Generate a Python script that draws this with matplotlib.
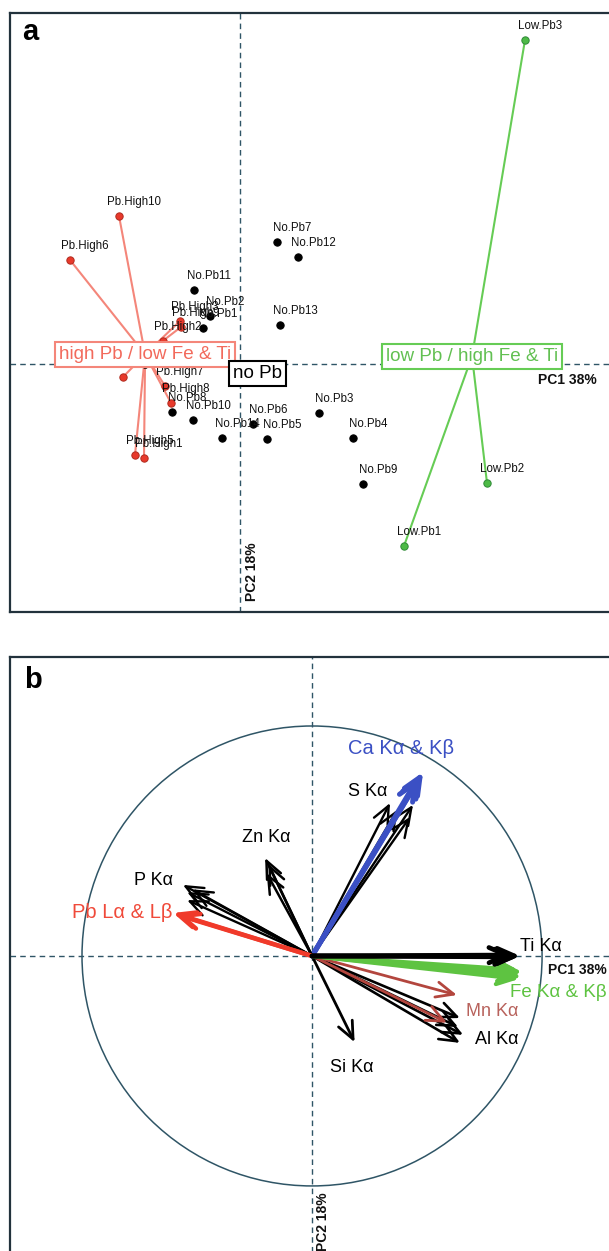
import numpy as np
import matplotlib
matplotlib.use('Agg')
import matplotlib.pyplot as plt
from matplotlib.patches import Circle

plt.rcParams['font.family'] = ['Liberation Sans', 'DejaVu Sans']

# ---------------- Panel a: sample scores (PC1, PC2) ----------------
pb_high_names = ['Pb.High1', 'Pb.High2', 'Pb.High3', 'Pb.High4', 'Pb.High5',
                 'Pb.High6', 'Pb.High7', 'Pb.High8', 'Pb.High9', 'Pb.High10']
pb_high_pc1 = [-1.92, -1.54, -1.20, -2.34, -2.10, -3.40, -1.50, -1.38, -1.18, -2.42]
pb_high_pc2 = [-1.88, 0.46, 0.86, -0.26, -1.82, 2.08, -0.44, -0.78, 0.74, 2.96]

no_pb_names = ['No.Pb1', 'No.Pb2', 'No.Pb3', 'No.Pb4', 'No.Pb5', 'No.Pb6', 'No.Pb7',
               'No.Pb8', 'No.Pb9', 'No.Pb10', 'No.Pb11', 'No.Pb12', 'No.Pb13', 'No.Pb14']
no_pb_pc1 = [-0.74, -0.60, 1.58, 2.26, 0.54, 0.26, 0.74, -1.36, 2.46, -0.94, -0.92, 1.16, 0.80, -0.36]
no_pb_pc2 = [0.72, 0.96, -0.98, -1.48, -1.50, -1.20, 2.44, -0.96, -2.40, -1.12, 1.48, 2.14, 0.78, -1.48]

low_pb_names = ['Low.Pb1', 'Low.Pb2', 'Low.Pb3']
low_pb_pc1 = [3.28, 4.94, 5.70]
low_pb_pc2 = [-3.64, -2.38, 6.48]

group_labels = ['high Pb / low Fe & Ti', 'no Pb', 'low Pb / high Fe & Ti']

# ---------------- Panel b: variable loadings ----------------
load_group = ['Ti', 'Ti', 'Ti',
              'Fe', 'Fe', 'Fe', 'Fe', 'Fe',
              'Mn', 'Mn',
              'Al', 'Al', 'Al', 'Al',
              'Si',
              'S', 'S', 'S', 'S',
              'Ca', 'Ca', 'Ca',
              'Zn', 'Zn', 'Zn',
              'P', 'P', 'P', 'P',
              'Pb', 'Pb']
load_pc1 = [0.905, 0.895, 0.870,
            0.913, 0.905, 0.900, 0.895, 0.910,
            0.630, 0.587,
            0.643, 0.657, 0.643, 0.635,
            0.185,
            0.339, 0.370, 0.439, 0.426,
            0.483, 0.461, 0.476,
            -0.204, -0.190, -0.197,
            -0.561, -0.543, -0.543, -0.520,
            -0.604, -0.590]
load_pc2 = [0.000, -0.004, 0.004,
            -0.070, -0.085, -0.100, -0.060, -0.090,
            -0.170, -0.290,
            -0.270, -0.343, -0.378, -0.309,
            -0.375,
            0.665, 0.635, 0.657, 0.604,
            0.800, 0.774, 0.787,
            0.426, 0.400, 0.360,
            0.309, 0.278, 0.243, 0.290,
            0.187, 0.180]

var_labels = {'Ti': 'Ti Kα', 'Fe': 'Fe Kα & Kβ', 'Mn': 'Mn Kα', 'Al': 'Al Kα',
              'Si': 'Si Kα', 'S': 'S Kα', 'Ca': 'Ca Kα & Kβ', 'Zn': 'Zn Kα',
              'P': 'P Kα', 'Pb': 'Pb Lα & Lβ'}

# ---------------- styles / layout ----------------
W, H = 609, 1251
fig = plt.figure(figsize=(W / 100, H / 100), dpi=100)
fig.patch.set_facecolor('white')

def px_axes(l, t, r, b):
    return fig.add_axes([l / W, 1 - b / H, (r - l) / W, (b - t) / H])

frame_c = '#22323c'
axis_c = '#2f5566'
dash = (0, (4, 3))

RED_DOT, RED_LINE, RED_TXT = '#e8392b', '#f4867a', '#f26a5c'
GRN_DOT, GRN_LINE, GRN_TXT = '#4dba46', '#66cc55', '#62c052'

# ---------------- Panel a ----------------
axa = px_axes(10, 13, 615, 612)
axa.set_xlim(-4.6, 7.5)
axa.set_ylim(-4.96, 7.02)
axa.set_xticks([]); axa.set_yticks([])
for s in axa.spines.values():
    s.set_color(frame_c); s.set_linewidth(1.6)
axa.axhline(0, ls=dash, color=axis_c, lw=1, zorder=1)
axa.axvline(0, ls=dash, color=axis_c, lw=1, zorder=1)

groups = [
    (pb_high_names, pb_high_pc1, pb_high_pc2, RED_DOT, '#b02a1e', RED_LINE, RED_TXT, RED_LINE, True, group_labels[0]),
    (no_pb_names, no_pb_pc1, no_pb_pc2, 'black', 'black', None, 'black', 'black', False, group_labels[1]),
    (low_pb_names, low_pb_pc1, low_pb_pc2, GRN_DOT, '#2e8a36', GRN_LINE, GRN_TXT, GRN_LINE, True, group_labels[2]),
]
for names, x, y, fc, ec, lc, tc, bc, spider, glabel in groups:
    x = np.asarray(x); y = np.asarray(y)
    cx, cy = x.mean(), y.mean()
    if spider:
        for xi, yi in zip(x, y):
            axa.plot([cx, xi], [cy, yi], color=lc, lw=1.5, zorder=2)
    axa.scatter(x, y, s=28, c=fc, edgecolors=ec, linewidths=0.7, zorder=3)
    for n, xi, yi in zip(names, x, y):
        axa.annotate(n, (xi, yi), xytext=(15, 14), textcoords='offset pixels',
                     ha='center', va='center', fontsize=8.3, color='#111111', zorder=4)
    axa.text(cx, cy, glabel, ha='center', va='center', fontsize=13.6, color=tc,
             zorder=6, bbox=dict(boxstyle='square,pad=0.2', fc='white', ec=bc, lw=1.5))

axa.text(6.54, -0.32, 'PC1 38%', ha='center', va='center', fontsize=10,
         fontweight='bold', color='#111111')
axa.text(0.24, -4.16, 'PC2 18%', ha='center', va='center', fontsize=10,
         fontweight='bold', rotation=90, color='#111111')
axa.text(0.033, 0.968, 'a', transform=axa.transAxes, ha='center', va='center',
         fontsize=21, fontweight='bold')

# ---------------- Panel b ----------------
axb = px_axes(10, 657, 615, 1260)
axb.set_xlim(-1.313, 1.317)
axb.set_ylim(-1.322, 1.30)
axb.set_xticks([]); axb.set_yticks([])
for s in axb.spines.values():
    s.set_color(frame_c); s.set_linewidth(1.6)
axb.axhline(0, ls=dash, color=axis_c, lw=1, zorder=1)
axb.axvline(0, ls=dash, color=axis_c, lw=1, zorder=1)
axb.add_patch(Circle((0, 0), 1.0, fill=False, ec=axis_c, lw=1.1, zorder=1))

arrow_style = {
    'Ti': ('black', 3.4), 'Fe': ('#5ec341', 3.0), 'Mn': ('#b3463e', 2.0),
    'Al': ('black', 1.9), 'Si': ('black', 2.0), 'S': ('black', 1.7),
    'Ca': ('#3b50c4', 3.6), 'Zn': ('black', 1.8), 'P': ('black', 1.7),
    'Pb': ('#f03a2a', 3.2),
}
order = ['Al', 'Mn', 'Si', 'S', 'Ca', 'Zn', 'P', 'Pb', 'Fe', 'Ti']
for g in order:
    col, lw = arrow_style[g]
    for gg, x, y in zip(load_group, load_pc1, load_pc2):
        if gg != g:
            continue
        axb.annotate('', xy=(x, y), xytext=(0, 0),
                     arrowprops=dict(arrowstyle='->,head_length=1.25,head_width=0.55',
                                     color=col, lw=lw, shrinkA=0, shrinkB=0),
                     zorder=3)

label_pos = {'Ti': (0.996, 0.040), 'Fe': (1.07, -0.161), 'Mn': (0.783, -0.243),
             'Al': (0.804, -0.365), 'Si': (0.174, -0.487), 'S': (0.243, 0.713),
             'Ca': (0.387, 0.900), 'Zn': (-0.200, 0.513), 'P': (-0.691, 0.330),
             'Pb': (-0.826, 0.187)}
label_col = {'Ti': 'black', 'Fe': '#5ec341', 'Mn': '#b8625c', 'Al': 'black',
             'Si': 'black', 'S': 'black', 'Ca': '#3b50c4', 'Zn': 'black',
             'P': 'black', 'Pb': '#f04a3a'}
label_size = {'Fe': 13.5, 'Ca': 14.5, 'Pb': 14.5}
for g, txt in var_labels.items():
    x, y = label_pos[g]
    axb.text(x, y, txt, ha='center', va='center', fontsize=label_size.get(g, 13),
             color=label_col[g], zorder=5)

axb.text(1.152, -0.061, 'PC1 38%', ha='center', va='center', fontsize=10,
         fontweight='bold', color='#111111')
axb.text(0.048, -1.157, 'PC2 18%', ha='center', va='center', fontsize=10,
         fontweight='bold', rotation=90, color='#111111')
axb.text(0.038, 0.962, 'b', transform=axb.transAxes, ha='center', va='center',
         fontsize=21, fontweight='bold')

fig.savefig('out.png', dpi=100, facecolor='white')
